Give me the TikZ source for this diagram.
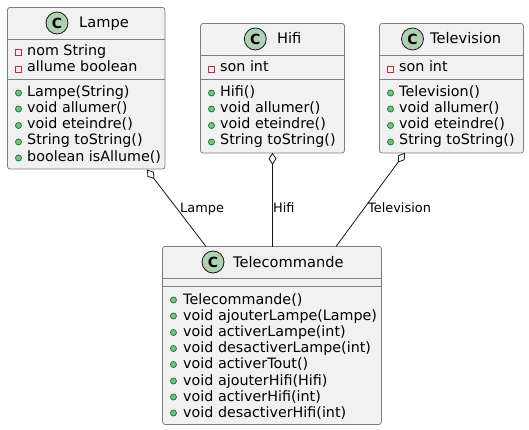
\documentclass[tikz,border=0pt]{standalone}
\usepackage{fontspec}
\setmainfont{DejaVu Sans}
\usetikzlibrary{arrows.meta}
\definecolor{boxfill}{HTML}{F1F1F1}
\definecolor{boxline}{HTML}{7F7F7F}
\definecolor{iconfill}{HTML}{ADD1B2}
\definecolor{redmark}{HTML}{C82930}
\definecolor{pubfill}{HTML}{84BE84}
\definecolor{publine}{HTML}{038048}
\definecolor{edge}{HTML}{181818}
\tikzset{
  classbox/.style={draw=boxline,fill=boxfill,line width=0.8pt,rounded corners=2.5pt,anchor=north west,inner sep=0pt,outer sep=0pt},
  sepline/.style={draw=boxline,line width=0.8pt},
  cicon/.style={circle,draw=edge,fill=iconfill,line width=0.8pt,minimum size=22pt,inner sep=0pt,font=\fontsize{14pt}{16pt}\selectfont\bfseries,text=black},
  title/.style={anchor=base west,inner sep=0pt,font=\fontsize{14.6pt}{16pt}\selectfont,text=black},
  member/.style={anchor=base west,inner sep=0pt,font=\fontsize{14.3pt}{16pt}\selectfont,text=black},
  priv/.style={draw=redmark,line width=0.8pt,minimum size=6pt,inner sep=0pt},
  pub/.style={circle,draw=publine,fill=pubfill,line width=0.8pt,minimum size=6pt,inner sep=0pt},
  aggr/.style={draw=edge,line width=0.8pt,-{Diamond[open,fill=white,length=12pt,width=8pt,line width=0.8pt]},shorten >=0pt},
  elabel/.style={anchor=base west,inner sep=0pt,font=\fontsize{12.9pt}{14pt}\selectfont,text=black}
}
\begin{document}
\begin{tikzpicture}[x=1pt,y=-1pt]
\useasboundingbox (0,0) rectangle (529,430);
% Lampe
\node[classbox,minimum width=157.5pt,minimum height=161.5pt] (lampe) at (7.5,7.5) {};
\draw[sepline] (7.5,39) -- (165,39) (7.5,79) -- (165,79);
\node[cicon] (lampeC) at (57,23) {C};
\node[title] (lampeT) at (79,28) {Lampe};
\node[priv] (l1i) at (18.5,52.5) {}; \node[member] (l1) at (27,56) {nom String};
\node[priv] (l2i) at (18.5,69) {}; \node[member] (l2) at (27,72) {allume boolean};
\node[pub] (l3i) at (18.5,93) {}; \node[member] (l3) at (27,97) {Lampe(String)};
\node[pub] (l4i) at (18.5,109) {}; \node[member] (l4) at (27,113) {void allumer()};
\node[pub] (l5i) at (18.5,125.5) {}; \node[member] (l5) at (27,129) {void eteindre()};
\node[pub] (l6i) at (18.5,142) {}; \node[member] (l6) at (27,145) {String toString()};
\node[pub] (l7i) at (18.5,158) {}; \node[member] (l7) at (27,162) {boolean isAllume()};
% Hifi
\node[classbox,minimum width=144pt,minimum height=129.5pt] (hifi) at (200.5,23.5) {};
\draw[sepline] (200.5,55) -- (344.5,55) (200.5,79) -- (344.5,79);
\node[cicon] (hifiC) at (255.3,39) {C};
\node[title] (hifiT) at (277,44) {Hifi};
\node[priv] (h1i) at (211.5,69) {}; \node[member] (h1) at (220,72) {son int};
\node[pub] (h2i) at (211.5,93) {}; \node[member] (h2) at (220,97) {Hifi()};
\node[pub] (h3i) at (211.5,109) {}; \node[member] (h3) at (220,113) {void allumer()};
\node[pub] (h4i) at (211.5,125.5) {}; \node[member] (h4) at (220,129) {void eteindre()};
\node[pub] (h5i) at (211.5,142) {}; \node[member] (h5) at (220,145) {String toString()};
% Television
\node[classbox,minimum width=144pt,minimum height=129.5pt] (tele) at (379.5,23.5) {};
\draw[sepline] (379.5,55) -- (523.5,55) (379.5,79) -- (523.5,79);
\node[cicon] (teleC) at (412.5,39) {C};
\node[title] (teleT) at (430,44) {Television};
\node[priv] (t1i) at (390.5,69) {}; \node[member] (t1) at (399,72) {son int};
\node[pub] (t2i) at (390.5,93) {}; \node[member] (t2) at (399,97) {Television()};
\node[pub] (t3i) at (390.5,109) {}; \node[member] (t3) at (399,113) {void allumer()};
\node[pub] (t4i) at (390.5,125.5) {}; \node[member] (t4) at (399,129) {void eteindre()};
\node[pub] (t5i) at (390.5,142) {}; \node[member] (t5) at (399,145) {String toString()};
% Telecommande
\node[classbox,minimum width=219pt,minimum height=178pt] (remote) at (162.5,246.5) {};
\draw[sepline] (162.5,278) -- (381.5,278) (162.5,286) -- (381.5,286);
\node[cicon] (remoteC) at (213,262) {C};
\node[title] (remoteT) at (233,267) {Telecommande};
\node[pub] (r1i) at (173.5,300) {}; \node[member] (r1) at (183,304) {Telecommande()};
\node[pub] (r2i) at (173.5,316) {}; \node[member] (r2) at (183,320) {void ajouterLampe(Lampe)};
\node[pub] (r3i) at (173.5,332.5) {}; \node[member] (r3) at (183,336) {void activerLampe(int)};
\node[pub] (r4i) at (173.5,348.5) {}; \node[member] (r4) at (183,352) {void desactiverLampe(int)};
\node[pub] (r5i) at (173.5,364.5) {}; \node[member] (r5) at (183,368) {void activerTout()};
\node[pub] (r6i) at (173.5,381) {}; \node[member] (r6) at (183,385) {void ajouterHifi(Hifi)};
\node[pub] (r7i) at (173.5,397) {}; \node[member] (r7) at (183,401) {void activerHifi(int)};
\node[pub] (r8i) at (173.5,413) {}; \node[member] (r8) at (183,417) {void desactiverHifi(int)};
% connectors
\coordinate (aL) at (147,169.5);
\coordinate (aH) at (272.5,152.8);
\coordinate (aT) at (405,152.8);
\coordinate (bL) at (206,246.5);
\coordinate (bH) at (272.5,246.5);
\coordinate (bT) at (336,246.5);
\draw[aggr] (bL) -- (aL);
\draw[aggr] (bH) -- (aH);
\draw[aggr] (bT) -- (aT);
\node[elabel] (labL) at (180,212) {Lampe};
\node[elabel] (labH) at (273,212) {Hifi};
\node[elabel] (labT) at (368,212) {Television};
\end{tikzpicture}
\end{document}
